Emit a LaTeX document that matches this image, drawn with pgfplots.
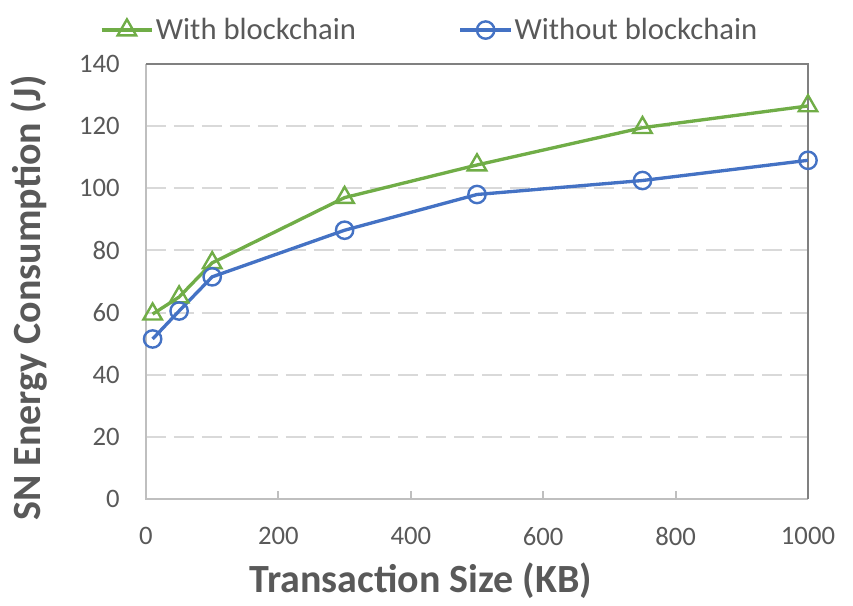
\documentclass[border=0pt]{standalone}
\usepackage{pgfplots}
\pgfplotsset{compat=1.18}
\usepackage{fontspec}
\setmainfont{Carlito}
\definecolor{cgreen}{HTML}{70AD47}
\definecolor{cblue}{HTML}{4472C4}
\definecolor{ctext}{HTML}{595959}
\definecolor{cgrid}{HTML}{D9D9D9}
\definecolor{caxis}{HTML}{BFBFBF}
\definecolor{cborder}{HTML}{808080}
\begin{document}
\begin{tikzpicture}
\path[use as bounding box] (-109.5pt,-80.25pt) rectangle (530.25pt,374.25pt);
\begin{axis}[
  at={(0,0)}, anchor=south west,
  scale only axis,
  width=496.5pt, height=326.25pt,
  xmin=0, xmax=1000, ymin=0, ymax=140,
  xtick={0,200,400,600,800,1000},
  ytick={0,20,40,60,80,100,120,140},
  /pgf/number format/assume math mode=true,
  /pgf/number format/1000 sep={},
  axis line style={draw=none},
  tick align=inside,
  xtick pos=bottom, ytick pos=left,
  major tick length=6pt,
  xtick style={draw=caxis, line width=1.5pt},
  ytick style={draw=none},
  ymajorgrids,
  major grid style={draw=cgrid, line width=1.5pt, dash pattern=on 15pt off 6pt},
  ticklabel style={font=\fontsize{20}{24}\selectfont, text=ctext},
  yticklabel style={anchor=east, inner sep=0pt, xshift=-19.5pt},
  xticklabel style={anchor=north, inner sep=0pt, yshift=-21pt},
  xlabel={Transaction Size (KB)},
  ylabel={SN Energy Consumption (J)},
  label style={font=\fontsize{30}{36}\selectfont\bfseries, text=ctext},
  xlabel style={at={(axis description cs:0.415,-0.2138)}, anchor=base},
  ylabel style={at={(axis description cs:-0.1601,0.462)}, anchor=base, rotate=0},
  clip=false,
  legend columns=2,
  legend style={at={(axis description cs:-0.07,1.078)}, anchor=west,
    draw=none, fill=none, inner sep=0pt, column sep=1.5pt,
    font=\fontsize{23}{27}\selectfont, text=ctext,
    nodes={inner sep=0pt},
    /tikz/every even column/.append style={column sep=77pt}},
  legend cell align=left,
  legend image code/.code={\draw[mark repeat=2,mark phase=2] plot coordinates {(0pt,0pt) (19pt,0pt) (38pt,0pt)};},
]
\draw[draw=caxis, line width=1.5pt] (rel axis cs:0,1) -- (rel axis cs:0,0) -- (rel axis cs:1,0);
\draw[draw=cborder, line width=1.5pt] (rel axis cs:0,1) -- (rel axis cs:1,1) -- (rel axis cs:1,0);
\addplot[color=cgreen, line width=2.5pt, mark=triangle, mark size=8pt,
  mark options={line width=1.8pt, fill=white}]
  coordinates {(10,59.5) (50,65) (100,76) (300,97) (500,107.5) (750,119.5) (1000,126.5)};
\addlegendentry{With blockchain}
\addplot[color=cblue, line width=2.5pt, mark=o, mark size=6.5pt,
  mark options={line width=1.8pt}]
  coordinates {(10,51.5) (50,60.5) (100,71.5) (300,86.5) (500,98) (750,102.5) (1000,109)};
\addlegendentry{Without blockchain}
\end{axis}
\end{tikzpicture}
\end{document}
